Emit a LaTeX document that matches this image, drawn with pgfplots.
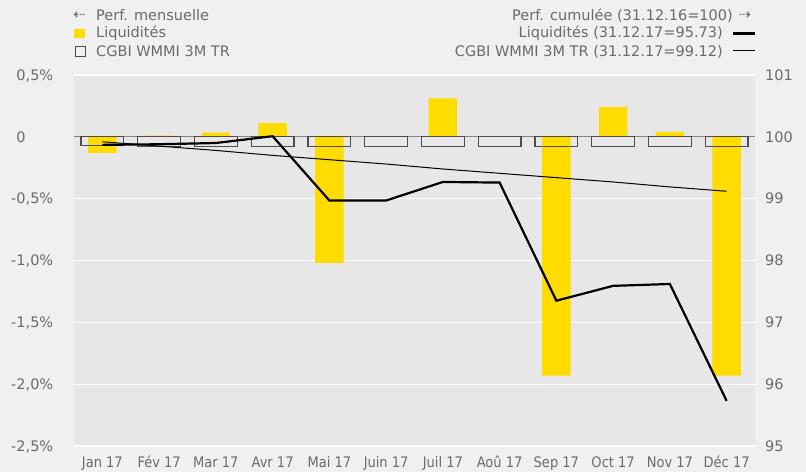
\documentclass[border=0pt]{standalone}
\usepackage{fontspec}
\setmainfont{DejaVu Sans}
\newfontfamily\condfont{DejaVu Sans Condensed}
\usepackage{pgfplots}
\usepackage{pgfplotstable}
\pgfplotsset{compat=1.18}
\definecolor{bg}{HTML}{F0F0F0}
\definecolor{plotbg}{HTML}{E7E7E7}
\definecolor{yel}{HTML}{FFDC00}
\definecolor{txt}{HTML}{6B6B6B}
\definecolor{boxc}{HTML}{4D4D4D}
\definecolor{zeroc}{HTML}{858585}
\newcommand{\lbl}{\fontsize{14.5bp}{17bp}\selectfont}

% monthly perf (%) and cumulated perf (31.12.16=100)
\pgfplotstableread{
x liq   cgbi   liqcum cgbicum
0 -0.13 -0.070 99.87  99.92
1 0.01  -0.075 99.88  99.85
2 0.035 -0.075 99.90  99.78
3 0.11  -0.075 100.01 99.70
4 -1.02 -0.075 98.97  99.63
5 0.005 -0.075 98.97  99.56
6 0.31  -0.075 99.27  99.48
7 0.005 -0.075 99.26  99.41
8 -1.93 -0.075 97.35  99.34
9 0.24  -0.075 97.59  99.27
10 0.04 -0.075 97.62  99.19
11 -1.93 -0.080 95.73 99.12
}\perfdata

\begin{document}
\begin{tikzpicture}
\fill[bg] (0,0) rectangle (806bp,472bp);
\path[use as bounding box] (0,0) rectangle (806bp,472bp);

\begin{axis}[
  at={(74bp,26bp)}, anchor=south west,
  width=681bp, height=371bp, scale only axis,
  xmin=-0.5, xmax=11.5, ymin=-2.5, ymax=0.5,
  axis background/.style={fill=plotbg},
  axis line style={draw=none},
  major tick length=0pt,
  ytick={-2.5,-2,-1.5,-1,-0.5,0,0.5},
  yticklabels={{-2,5\%},{-2,0\%},{-1,5\%},{-1,0\%},{-0,5\%},{\phantom{-}0},{\phantom{-}0,5\%}},
  xtick={0,...,11},
  xticklabels={Jan 17,Fév 17,Mar 17,Avr 17,Mai 17,Juin 17,Juil 17,Aoû 17,Sep 17,Oct 17,Nov 17,Déc 17},
  ymajorgrids, grid style={white, line width=1.2bp},
  yticklabel style={font=\lbl, text=txt, anchor=base west, inner sep=0pt, xshift=-63bp, yshift=-5.3bp},
  xticklabel style={font=\condfont\lbl, text=txt, anchor=base, inner sep=0pt, yshift=-21.3bp},
]
  \addplot[ybar, bar width=28.7bp, bar shift=0pt, fill=yel, draw=none] table[x=x, y=liq] {\perfdata};
  \draw[zeroc, line width=1.2bp] (axis cs:-0.5,0) -- (axis cs:11.5,0);
  \addplot[ybar, bar width=42.6bp, bar shift=0pt, fill=none, draw=boxc, line width=1.2bp] table[x=x, y=cgbi] {\perfdata};
\end{axis}

\begin{axis}[
  at={(74bp,26bp)}, anchor=south west,
  width=681bp, height=371bp, scale only axis,
  xmin=-0.5, xmax=11.5, ymin=95, ymax=101,
  hide x axis,
  axis line style={draw=none},
  major tick length=0pt,
  ytick={95,...,101},
  yticklabel pos=right,
  /pgf/number format/assume math mode=true,
  yticklabel style={font=\lbl, text=txt, anchor=base west, inner sep=0pt, xshift=10bp, yshift=-5.3bp},
]
  \addplot[black, line width=1bp] table[x=x, y=cgbicum] {\perfdata};
  \addplot[black, line width=2.2bp] table[x=x, y=liqcum] {\perfdata};
\end{axis}

% legend, left block
\begin{scope}[every node/.style={font=\lbl, text=txt, inner sep=0pt}]
  \node[anchor=center] at (79.5bp,456.5bp) {⇠};
  \node[anchor=base west] at (96bp,451.3bp) {Perf. mensuelle};
  \fill[yel] (74bp,434.3bp) rectangle (85bp,443.3bp);
  \node[anchor=base west] at (96bp,434.5bp) {Liquidités};
  \draw[boxc, line width=1bp] (75bp,415.5bp) rectangle (85bp,425bp);
  \node[anchor=base west] at (96bp,415.3bp) {CGBI WMMI 3M TR};
% legend, right block
  \node[anchor=base east] at (733bp,451.3bp) {Perf. cumulée (31.12.16=100)};
  \node[anchor=center] at (745bp,456.5bp) {⇢};
  \node[anchor=base east] at (723bp,434.5bp) {Liquidités (31.12.17=95.73)};
  \draw[black, line width=2.5bp] (733bp,438.7bp) -- (755bp,438.7bp);
  \node[anchor=base east] at (723bp,415.3bp) {CGBI WMMI 3M TR (31.12.17=99.12)};
  \draw[black, line width=1bp] (733bp,421bp) -- (755bp,421bp);
\end{scope}
\end{tikzpicture}
\end{document}
